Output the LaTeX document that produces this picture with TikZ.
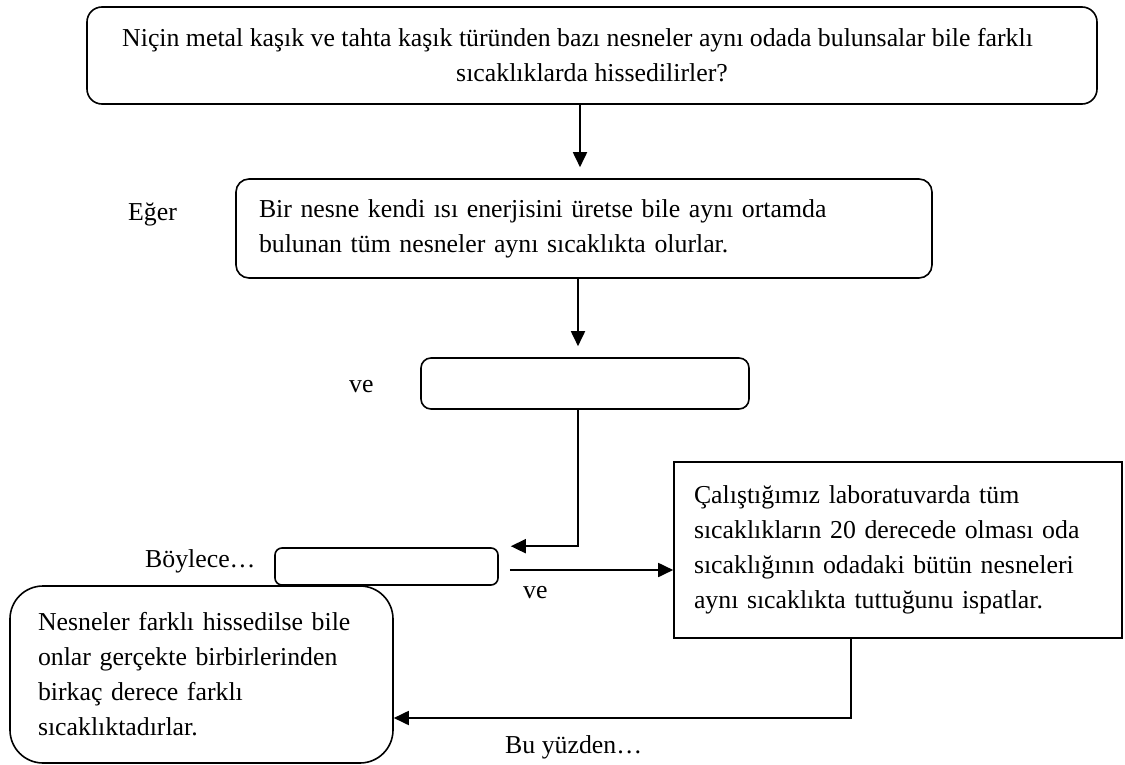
\documentclass[tikz,border=0pt]{standalone}
\usepackage{fontspec}
\setmainfont{Liberation Serif}
\usetikzlibrary{arrows.meta,calc}
\begin{document}
\begin{tikzpicture}[x=1pt,y=-1pt,
  every node/.style={font=\fontsize{25.8pt}{35pt}\selectfont},
  box/.style={draw, line width=1.6pt, inner ysep=0pt},
  roundbox/.style={box, rounded corners=#1},
  arr/.style={line width=1.8pt, -{Triangle[length=15pt,width=14pt]}},
  lbl/.style={anchor=base west, inner sep=0pt}]

\useasboundingbox (0,0) rectangle (1125,765);

% question box
\node[roundbox=15pt, minimum width=1010pt, minimum height=97pt, align=center] (q) at (592,55.5)
  {Niçin metal kaşık ve tahta kaşık türünden bazı nesneler aynı odada bulunsalar bile farklı\hspace*{29pt}\\
   sıcaklıklarda hissedilirler?};

% hypothesis box
\node[roundbox=13pt, minimum width=696pt, minimum height=99pt, inner xsep=23pt,
      text width=650pt, align=left] (hyp) at (584,228.5)
  {Bir nesne kendi ısı enerjisini üretse bile aynı ortamda\\
   bulunan tüm nesneler aynı sıcaklıkta olurlar.};

% empty boxes
\node[roundbox=10pt, minimum width=328pt, minimum height=51pt] (e1) at (585,383.5) {};
\node[roundbox=7pt, minimum width=223pt, minimum height=37pt] (e2) at (386.5,566.5) {};

% evidence box
\node[box, minimum width=448pt, minimum height=176pt, inner xsep=20pt,
      text width=408pt, align=left] (ev) at (898,550)
  {Çalıştığımız laboratuvarda tüm\\
   sıcaklıkların 20 derecede olması oda\\
   sıcaklığının odadaki bütün nesneleri\\
   aynı sıcaklıkta tuttuğunu ispatlar.};

% conclusion box
\node[roundbox=33pt, minimum width=383pt, minimum height=177pt, inner xsep=28pt,
      text width=327pt, align=left] (con) at (201.5,674.5)
  {Nesneler farklı hissedilse bile\\
   onlar gerçekte birbirlerinden\\
   birkaç derece farklı\\
   sıcaklıktadırlar.};

% side labels
\node[lbl] (eger) at (128,220) {Eğer};
\node[lbl] (ve1) at (349,392) {ve};
\node[lbl] (boy) at (145,567) {Böylece…};
\node[lbl] (ve2) at (523,598) {ve};
\node[lbl] (bu) at (505,753) {Bu yüzden…};

% connectors
\draw[arr] ($(q.south)+(-12,0)$) -- ($(hyp.north)+(-4,-11)$);
\draw[arr] ($(hyp.south)+(-6,0)$) -- ($(e1.north)+(-7,-11)$);
\draw[arr] ($(e1.south)+(-7,0)$) |- ($(e2.north east)+(12,-1)$);
\draw[arr] ($(e2.east)+(11,3.5)$) -- ($(ev.west)+(0,20)$);
\draw[arr] ($(ev.south)+(-47,0)$) |- ($(con.east)+(0,43.5)$);
\end{tikzpicture}
\end{document}
